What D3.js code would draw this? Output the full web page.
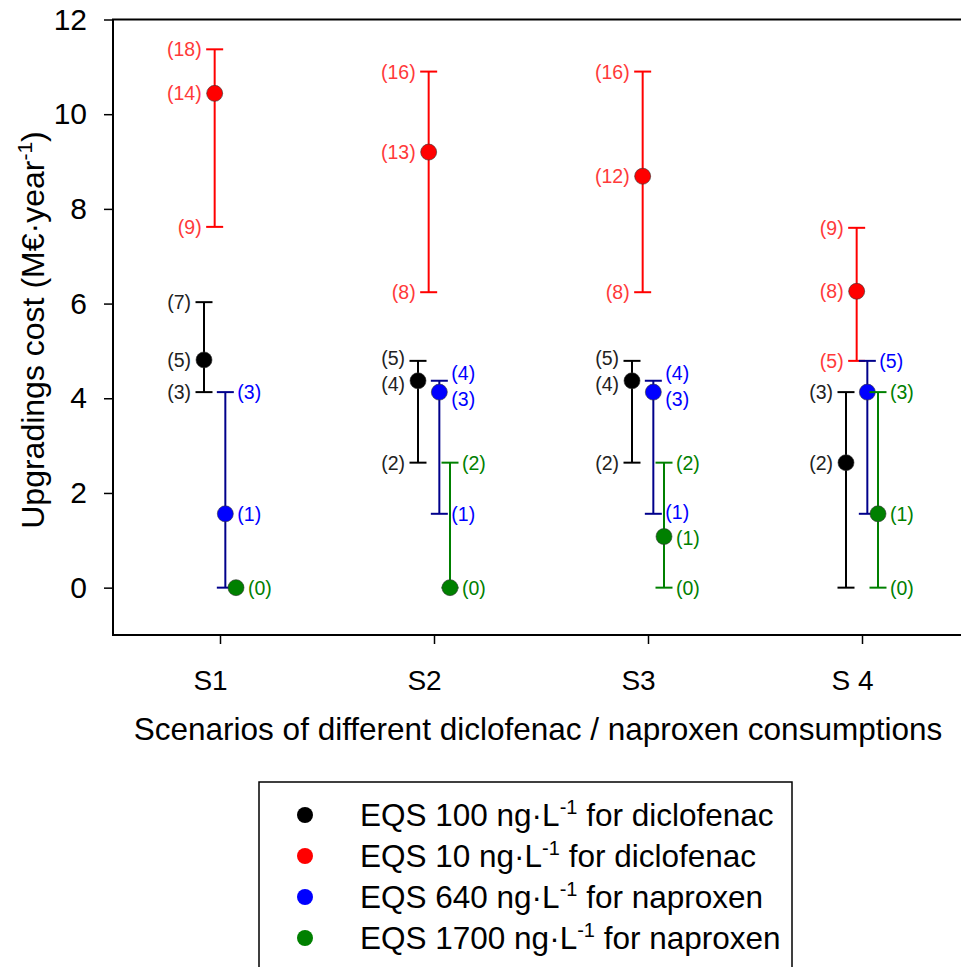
<!DOCTYPE html>
<html>
<head>
<meta charset="utf-8">
<script src="https://cdn.jsdelivr.net/npm/d3@7"></script>
<style>
  body { margin: 0; background: #fff; }
  text { font-family: "Liberation Sans", Arial, sans-serif; }
</style>
</head>
<body>
<div id="chart"></div>
<script>
// scenario categories and y tick labels
const scenarios = ["S1", "S2", "S3", "S 4"];
const yTicks = [0, 2, 4, 6, 8, 10, 12];

const seriesNames = [
    ["EQS 100 ng\u00b7L", " for diclofenac"],
    ["EQS 10 ng\u00b7L", " for diclofenac"],
    ["EQS 640 ng\u00b7L", " for naproxen"],
    ["EQS 1700 ng\u00b7L", " for naproxen"]
];

// EQS 100 ng/L diclofenac (black)
const mean100 = [4.81, 4.37, 4.37, 2.64];
const low100 = [4.13, 2.64, 2.64, 0];
const high100 = [6.03, 4.79, 4.79, 4.13];
const labMean100 = ["(5)", "(4)", "(4)", "(2)"];
const labLow100 = ["(3)", "(2)", "(2)", ""];
const labHigh100 = ["(7)", "(5)", "(5)", "(3)"];

// EQS 10 ng/L diclofenac (red)
const mean10 = [10.44, 9.2, 8.69, 6.26];
const low10 = [7.62, 6.24, 6.24, 4.79];
const high10 = [11.37, 10.9, 10.9, 7.6];
const labMean10 = ["(14)", "(13)", "(12)", "(8)"];
const labLow10 = ["(9)", "(8)", "(8)", "(5)"];
const labHigh10 = ["(18)", "(16)", "(16)", "(9)"];

// EQS 640 ng/L naproxen (blue)
const mean640 = [1.56, 4.13, 4.13, 4.13];
const low640 = [0, 1.56, 1.56, 1.56];
const high640 = [4.13, 4.37, 4.37, 4.79];
const labMean640 = ["(1)", "(3)", "(3)", ""];
const labLow640 = ["", "(1)", "(1)", ""];
const labHigh640 = ["(3)", "(4)", "(4)", "(5)"];

// EQS 1700 ng/L naproxen (green)
const mean1700 = [0, 0, 1.08, 1.56];
const low1700 = [0, 0, 0, 0];
const high1700 = [0, 2.64, 2.64, 4.13];
const labMean1700 = ["(0)", "(0)", "(1)", "(1)"];
const labLow1700 = ["", "", "(0)", "(0)"];
const labHigh1700 = ["", "(2)", "(2)", "(3)"];

const dotColors = ["#000000", "#ff0000", "#0000ff", "#008000"];
const barColors = ["#000000", "#ff0000", "#00008b", "#008000"];
const textColors = ["#222222", "#ff3a3a", "#0000ff", "#008000"];

const series = [
    { mean: mean100, low: low100, high: high100, labs: [labMean100, labLow100, labHigh100] },
    { mean: mean10, low: low10, high: high10, labs: [labMean10, labLow10, labHigh10] },
    { mean: mean640, low: low640, high: high640, labs: [labMean640, labLow640, labHigh640] },
    { mean: mean1700, low: low1700, high: high1700, labs: [labMean1700, labLow1700, labHigh1700] }
];

const width = 961;
const height = 967;

const svg = d3.select("#chart")
    .append("svg")
        .attr("width", width)
        .attr("height", height);

const x = d3.scalePoint().domain(scenarios).range([113, 969]).padding(0.5);
const dx = d3.scalePoint().domain(d3.range(series.length)).range([-16, 16]);
const y = d3.scaleLinear().domain([-1, 12]).range([635, 19.5]);

// frame (right edge falls outside the picture)
svg.append("rect")
    .attr("x", x.range()[0])
    .attr("y", y(12))
    .attr("width", x.range()[1] - x.range()[0])
    .attr("height", y(-1) - y(12))
    .attr("fill", "none")
    .attr("stroke", "black")
    .attr("stroke-width", 2);

const yAxis = svg.append("g")
    .attr("transform", `translate(${x.range()[0]},0)`)
    .call(d3.axisLeft(y).tickValues(yTicks).tickSize(9).tickSizeOuter(0).tickPadding(17));
yAxis.select(".domain").remove();
yAxis.selectAll(".tick line").attr("stroke-width", 1.5);
yAxis.selectAll("text").attr("font-size", 30).attr("fill", "black")
    .style("font-family", '"Liberation Sans", Arial, sans-serif');

const xAxis = svg.append("g")
    .attr("transform", `translate(0,${y(-1)})`)
    .call(d3.axisBottom(x).tickSize(9).tickSizeOuter(0).tickPadding(26));
xAxis.select(".domain").remove();
xAxis.selectAll(".tick line").attr("stroke-width", 1.5);
xAxis.selectAll("text").attr("font-size", 28).attr("fill", "black")
    .attr("dx", -10)
    .style("font-family", '"Liberation Sans", Arial, sans-serif');

// axis titles
svg.append("text")
    .attr("x", 538)
    .attr("y", 740)
    .attr("text-anchor", "middle")
    .attr("font-size", 31.5)
    .text("Scenarios of different diclofenac / naproxen consumptions");

const yTitle = svg.append("text")
    .attr("transform", "translate(44,330) rotate(-90)")
    .attr("text-anchor", "middle")
    .attr("font-size", 32);
yTitle.append("tspan").text("Upgradings cost (M\u20ac\u00b7year");
yTitle.append("tspan").attr("dy", -12).attr("font-size", 21).text("-1");
yTitle.append("tspan").attr("dy", 12).text(")");

// error bars and points
const capHalf = 8.5;
series.forEach((s, i) => {
    const g = svg.append("g");
    const rows = scenarios.map((sc, j) => ({
        px: x(sc) + dx(i), mean: s.mean[j], low: s.low[j], high: s.high[j]
    }));
    g.selectAll(".stem").data(rows.filter(d => d.high > d.low)).join("line")
        .attr("x1", d => d.px).attr("x2", d => d.px)
        .attr("y1", d => y(d.low)).attr("y2", d => y(d.high))
        .attr("stroke", barColors[i]).attr("stroke-width", 2);
    const caps = rows.filter(d => d.high > d.low).flatMap(d => [
        { px: d.px, v: d.low }, { px: d.px, v: d.high }
    ]);
    g.selectAll(".cap").data(caps).join("line")
        .attr("x1", d => d.px - capHalf).attr("x2", d => d.px + capHalf)
        .attr("y1", d => y(d.v)).attr("y2", d => y(d.v))
        .attr("stroke", barColors[i]).attr("stroke-width", 2);
    g.selectAll("circle").data(rows).join("circle")
        .attr("cx", d => d.px).attr("cy", d => y(d.mean))
        .attr("r", 8)
        .attr("fill", dotColors[i])
        .attr("stroke", "#333").attr("stroke-width", 0.6);
});

// value labels: diclofenac on the left, naproxen on the right
const labels = [];
series.forEach((s, i) => {
    const left = i < 2;
    scenarios.forEach((sc, j) => {
        const vals = [s.mean[j], s.low[j], s.high[j]];
        s.labs.forEach((arr, k) => {
            if (!arr[j]) return;
            labels.push({
                key: sc + (left ? "L" : "R"),
                x: x(sc) + dx(i) + (left ? -13 : 12),
                y: y(vals[k]),
                anchor: left ? "end" : "start",
                text: arr[j],
                color: textColors[i]
            });
        });
    });
});

// push apart labels that sit too close in the same column
const minGap = 26;
d3.group(labels, d => d.key).forEach(group => {
    group.sort((a, b) => a.y - b.y);
    for (let it = 0; it < 10; it++) {
        for (let k = 1; k < group.length; k++) {
            const gap = group[k].y - group[k - 1].y;
            if (gap < minGap) {
                const shift = (minGap - gap) / 2;
                group[k - 1].y -= shift;
                group[k].y += shift;
            }
        }
    }
});

svg.append("g").selectAll("text").data(labels).join("text")
    .attr("x", d => d.x)
    .attr("y", d => d.y)
    .attr("dy", "0.36em")
    .attr("text-anchor", d => d.anchor)
    .attr("font-size", 19.5)
    .attr("fill", d => d.color)
    .text(d => d.text);

// legend
const legend = svg.append("g");
legend.append("rect")
    .attr("x", 259).attr("y", 782)
    .attr("width", 533).attr("height", 200)
    .attr("fill", "white").attr("stroke", "black").attr("stroke-width", 1.5);

const items = legend.selectAll(".item").data(seriesNames).join("g")
    .attr("transform", (d, i) => `translate(305,${815 + i * 41})`);
items.append("circle").attr("r", 8).attr("fill", (d, i) => dotColors[i]);
const lt = items.append("text")
    .attr("x", 55)
    .attr("dy", "0.36em")
    .attr("font-size", 31.5);
lt.append("tspan").text(d => d[0]);
lt.append("tspan").attr("dy", -12).attr("font-size", 20).text("-1");
lt.append("tspan").attr("dy", 12).text(d => d[1]);
</script>
</body>
</html>
